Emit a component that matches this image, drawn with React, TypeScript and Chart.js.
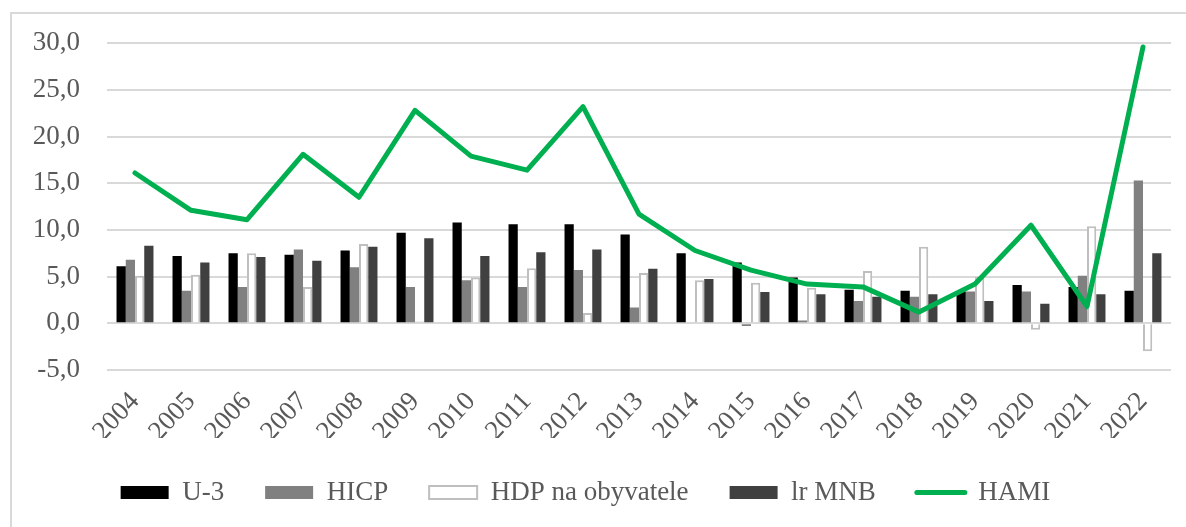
import React, { useEffect, useRef } from "react";
import { Chart, registerables } from "chart.js";

Chart.register(...registerables);

const years = ["2004","2005","2006","2007","2008","2009","2010","2011","2012","2013","2014","2015","2016","2017","2018","2019","2020","2021","2022"];
const u3 = [6.1, 7.2, 7.5, 7.35, 7.8, 9.7, 10.8, 10.6, 10.6, 9.5, 7.5, 6.5, 4.9, 3.6, 3.5, 3.4, 4.1, 3.9, 3.5];
const hicp = [6.8, 3.5, 3.9, 7.9, 6.0, 3.9, 4.6, 3.9, 5.7, 1.7, -0.1, -0.3, 0.3, 2.4, 2.85, 3.4, 3.4, 5.1, 15.3];
const hdp = [5.1, 5.2, 7.5, 3.9, 8.5, 0.2, 4.9, 5.9, 1.1, 5.4, 4.6, 4.35, 3.8, 5.6, 8.2, 5.0, -0.7, 10.4, -3.0];
const lrMnb = [8.3, 6.5, 7.1, 6.7, 8.2, 9.1, 7.2, 7.6, 7.9, 5.85, 4.75, 3.35, 3.1, 2.85, 3.1, 2.4, 2.1, 3.1, 7.5];
const hami = [16.1, 12.1, 11.1, 18.1, 13.5, 22.8, 17.9, 16.4, 23.2, 11.7, 7.8, 5.7, 4.2, 3.9, 1.2, 4.2, 10.5, 1.8, 29.6];

const W = 1186;
const H = 527;
const TEXT = "#595959";
const FONT = "'Liberation Serif', 'Times New Roman', serif";

export default function App() {
  const ref = useRef<HTMLCanvasElement | null>(null);

  useEffect(() => {
    if (!ref.current) return;
    const chart = new Chart(ref.current, {
      type: "bar",
      data: {
        labels: years,
        datasets: [
          { type: "bar", label: "U-3", data: u3, backgroundColor: "#000000", order: 1 } as any,
          { type: "bar", label: "HICP", data: hicp, backgroundColor: "#808080", order: 1 } as any,
          { type: "bar", label: "HDP na obyvatele", data: hdp, backgroundColor: "#ffffff", borderColor: "#bfbfbf", borderWidth: 2, order: 1 } as any,
          { type: "bar", label: "lr MNB", data: lrMnb, backgroundColor: "#404040", order: 1 } as any,
          {
            type: "line",
            label: "HAMI",
            data: hami,
            borderColor: "#00b050",
            backgroundColor: "#00b050",
            borderWidth: 5,
            pointRadius: 0,
            tension: 0,
            borderJoinStyle: "round",
            borderCapStyle: "round",
            order: 0,
          } as any,
        ],
      },
      options: {
        responsive: false,
        animation: false,
        devicePixelRatio: 1,
        layout: { padding: { top: 43, right: 15, bottom: 11, left: 0 } },
        datasets: { bar: { categoryPercentage: 0.66, barPercentage: 1 } },
        plugins: {
          tooltip: { enabled: false },
          legend: {
            position: "bottom",
            labels: {
              usePointStyle: true,
              pointStyleWidth: 48,
              boxHeight: 13,
              padding: 41,
              color: TEXT,
              font: { family: FONT, size: 27 },
              sort: (a: any, b: any) => a.datasetIndex - b.datasetIndex,
              generateLabels: (c: any) => {
                const items = Chart.defaults.plugins.legend.labels.generateLabels(c);
                return items.map((it: any) => {
                  if (it.text === "HAMI") {
                    return { ...it, pointStyle: "line", lineWidth: 5, lineCap: "round", strokeStyle: "#00b050" };
                  }
                  return { ...it, pointStyle: "rect" };
                });
              },
            },
          },
        },
        scales: {
          x: {
            grid: { display: false },
            border: { display: false },
            ticks: {
              color: TEXT,
              font: { family: FONT, size: 27 },
              minRotation: 47,
              maxRotation: 47,
              padding: 8,
              autoSkip: false,
            },
            afterFit: (s: any) => { s.height = 68; },
          },
          y: {
            min: -5,
            max: 30,
            border: { display: false },
            grid: { color: "#d9d9d9", lineWidth: 2, drawTicks: false },
            ticks: {
              stepSize: 5,
              color: TEXT,
              padding: 27,
              font: { family: FONT, size: 27 },
              callback: (v: any) => Number(v).toFixed(1).replace(".", ","),
            },
            afterFit: (s: any) => { s.width = 107; },
          },
        },
      },
    });
    return () => chart.destroy();
  }, []);

  return (
    <div style={{ position: "fixed", left: 0, top: 0, width: W, height: H, background: "#fff", overflow: "hidden" }}>
      <div style={{ position: "absolute", left: 10, top: 12, right: -10, bottom: -10, borderLeft: "2px solid #d9d9d9", borderTop: "2px solid #d9d9d9" }} />
      <canvas ref={ref} width={W} height={H} style={{ position: "absolute", left: 0, top: 0, width: W, height: H }} />
    </div>
  );
}
